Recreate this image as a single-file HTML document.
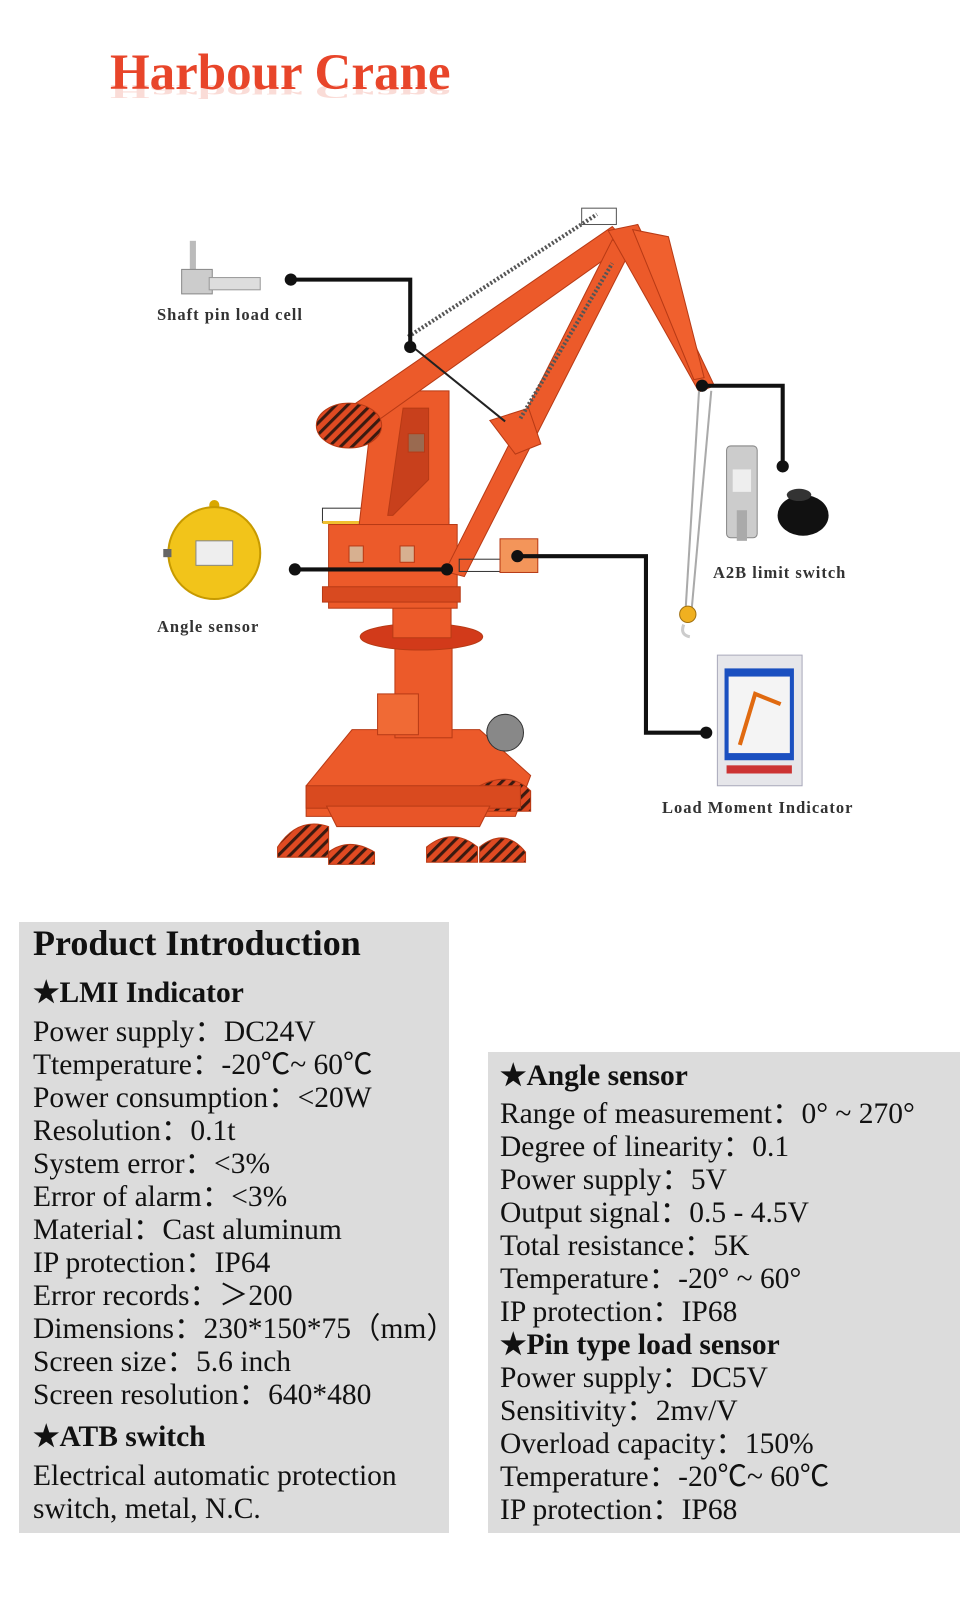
<!DOCTYPE html>
<html><head><meta charset="utf-8"><style>
body{margin:0;background:#fff;width:977px;height:1600px;position:relative;overflow:hidden;font-family:"Liberation Serif",serif}
.t{position:absolute;left:110px;top:44px;font-size:51px;font-weight:bold;color:#e8452a}
.tr{position:absolute;left:110px;top:103px;font-size:51px;font-weight:bold;color:#e8452a;opacity:.18;transform:scaleY(-0.4);transform-origin:top}
.lbl{position:absolute;font-size:16.5px;font-weight:bold;color:#333;white-space:nowrap;letter-spacing:1px}
.box{position:absolute;background:#dcdcdc;color:#111}
.box div{font-size:29.5px;line-height:33px;white-space:nowrap}
.box .h{font-weight:bold}
</style></head><body>
<div class="t">Harbour Crane</div>
<div class="tr">Harbour Crane</div>

<svg width="997" height="898" viewBox="0 0 977 880" style="position:absolute;left:0;top:0">
<defs>
<pattern id="st" width="8" height="8" patternUnits="userSpaceOnUse" patternTransform="rotate(45)"><rect width="8" height="8" fill="#e04a22"/><rect width="3" height="8" fill="#3a1a10"/></pattern>
</defs>
<rect x="186" y="236" width="6" height="28" fill="#bbb"/>
<rect x="178" y="264" width="30" height="24" fill="#ccc" stroke="#888"/>
<rect x="205" y="272" width="50" height="12" fill="#ddd" stroke="#999"/>
<circle cx="210" cy="495" r="5" fill="#d9a800"/>
<circle cx="210" cy="542" r="45" fill="#f2c41a" stroke="#c79a00" stroke-width="2"/>
<rect x="192" y="530" width="36" height="24" fill="#eee" stroke="#888"/>
<rect x="160" y="538" width="8" height="8" fill="#666"/>
<rect x="712" y="437" width="30" height="90" rx="4" fill="#ccc" stroke="#888"/>
<rect x="718" y="460" width="18" height="22" fill="#eee"/>
<rect x="722" y="500" width="10" height="30" fill="#aaa"/>
<ellipse cx="787" cy="505" rx="25" ry="20" fill="#111"/>
<ellipse cx="783" cy="485" rx="12" ry="6" fill="#333"/>
<rect x="703" y="642" width="83" height="128" fill="#e6e6ea" stroke="#aab"/>
<rect x="710" y="655" width="68" height="90" fill="#1a4fc0"/>
<rect x="714" y="663" width="60" height="75" fill="#f4f4f4"/>
<path d="M725 730 L740 680 L765 690" stroke="#e06a10" stroke-width="4" fill="none"/>
<rect x="712" y="750" width="64" height="8" fill="#c33"/>

<g fill="#ec5a2a" stroke="#b83a15" stroke-width="1">
<polygon points="345,715 470,715 520,760 505,800 300,800 300,770"/>
<path d="M272 830 q20-30 50-20 l0 30 l-50 0z M322 835 q20-15 45 0 l0 12 l-45 0z M418 830 q25-20 50 0 l0 15 l-50 0z M470 830 q25-20 45 5 l0 10 l-45 0z M470 770 q30-15 50 5 l0 20 l-50 0z" fill="url(#st)"/>
<rect x="300" y="770" width="210" height="22" fill="#d94a1f"/>
<polygon points="320,790 480,790 470,810 330,810" fill="#e85528"/>
<rect x="387" y="633" width="56" height="90"/>
<rect x="370" y="680" width="40" height="40" fill="#f06a35"/>
<circle cx="495" cy="718" r="18" fill="#888" stroke="#333"/>
<ellipse cx="413" cy="624" rx="60" ry="13" fill="#d23a1a"/>
<rect x="385" y="585" width="57" height="40"/>
<rect x="322" y="514" width="126" height="82"/>
<rect x="316" y="575" width="135" height="15" fill="#d84a20"/>
<rect x="342" y="535" width="14" height="16" fill="#d7b090"/>
<rect x="392" y="535" width="14" height="16" fill="#d7b090"/>
<rect x="316" y="498" width="124" height="14" fill="none" stroke="#333"/>
<line x1="316" y1="512" x2="440" y2="512" stroke="#f0c030" stroke-width="3"/>
<polygon points="367,383 440,383 440,514 352,514"/>
<polygon points="395,400 420,400 420,470 385,505 380,505" fill="#c8401c"/>
<rect x="400" y="425" width="16" height="18" fill="#9a6a50"/>
<polygon points="327,410 600,222 615,238 345,430"/>
<ellipse cx="342" cy="417" rx="32" ry="22" fill="url(#st)"/>
<polygon points="436,560 600,235 618,245 455,565"/>
<polygon points="596,226 625,220 700,378 685,384"/>
<polygon points="620,225 655,232 690,370 680,372" fill="#f0602e"/>
<polygon points="480,412 518,400 530,435 505,445"/>
<rect x="450" y="548" width="70" height="12" fill="none" stroke="#333"/>
<rect x="490" y="528" width="37" height="33" fill="#f3955a"/>
</g>
<line x1="400" y1="330" x2="585" y2="210" stroke="#555" stroke-width="4" stroke-dasharray="2 2"/>
<line x1="510" y1="410" x2="600" y2="258" stroke="#555" stroke-width="4" stroke-dasharray="2 2"/>
<rect x="570" y="204" width="34" height="16" fill="none" stroke="#555"/>
<line x1="685" y1="383" x2="672" y2="595" stroke="#aaa" stroke-width="2"/>
<line x1="697" y1="383" x2="678" y2="595" stroke="#aaa" stroke-width="2"/>
<circle cx="674" cy="602" r="8" fill="#f0b020" stroke="#a07010"/>
<path d="M670 612 q-4 10 6 12" stroke="#ccc" stroke-width="3" fill="none"/>
<line x1="407" y1="342" x2="495" y2="413" stroke="#222" stroke-width="2"/>
<g stroke="#111" stroke-width="4" fill="none">
<polyline points="285,274 402,274 402,340"/>
<line x1="289" y1="558" x2="438" y2="558"/>
<polyline points="507,545 633,545 633,718 692,718"/>
<polyline points="688,378 767,378 767,457"/>
</g>
<g fill="#111">
<circle cx="285" cy="274" r="6"/><circle cx="402" cy="340" r="6"/>
<circle cx="289" cy="558" r="6"/><circle cx="438" cy="558" r="6"/>
<circle cx="507" cy="545" r="6"/><circle cx="692" cy="718" r="6"/>
<circle cx="688" cy="378" r="6"/><circle cx="767" cy="457" r="6"/>
</g>
</svg>

<div class="lbl" style="left:157px;top:305px">Shaft pin load cell</div>
<div class="lbl" style="left:157px;top:617px">Angle sensor</div>
<div class="lbl" style="left:713px;top:563px">A2B limit switch</div>
<div class="lbl" style="left:662px;top:798px">Load Moment Indicator</div>

<div class="box" style="left:19px;top:922px;width:430px;height:611px">
<div class="h" style="position:absolute;left:14px;top:1px;font-size:36px;line-height:40px">Product Introduction</div>
<div style="position:absolute;left:14px;top:55px">
<div class="h" style="margin-bottom:6px">★LMI Indicator</div>
<div>Power supply：DC24V</div>
<div>Ttemperature：-20℃~ 60℃</div>
<div>Power consumption：&lt;20W</div>
<div>Resolution：0.1t</div>
<div>System error：&lt;3%</div>
<div>Error of alarm：&lt;3%</div>
<div>Material：Cast aluminum</div>
<div>IP protection：IP64</div>
<div>Error records：＞200</div>
<div>Dimensions：230*150*75（mm）</div>
<div>Screen size：5.6 inch</div>
<div>Screen resolution：640*480</div>
<div class="h" style="margin-top:9px;margin-bottom:6px">★ATB switch</div>
<div>Electrical automatic protection</div>
<div>switch, metal, N.C.</div>
</div></div>

<div class="box" style="left:488px;top:1052px;width:472px;height:481px">
<div style="position:absolute;left:12px;top:8px">
<div class="h" style="margin-bottom:5px">★Angle sensor</div>
<div>Range of measurement：0° ~ 270°</div>
<div>Degree of linearity：0.1</div>
<div>Power supply：5V</div>
<div>Output signal：0.5 - 4.5V</div>
<div>Total resistance：5K</div>
<div>Temperature：-20° ~ 60°</div>
<div>IP protection：IP68</div>
<div class="h">★Pin type load sensor</div>
<div>Power supply：DC5V</div>
<div>Sensitivity：2mv/V</div>
<div>Overload capacity：150%</div>
<div>Temperature：-20℃~ 60℃</div>
<div>IP protection：IP68</div>
</div></div>
</body></html>
